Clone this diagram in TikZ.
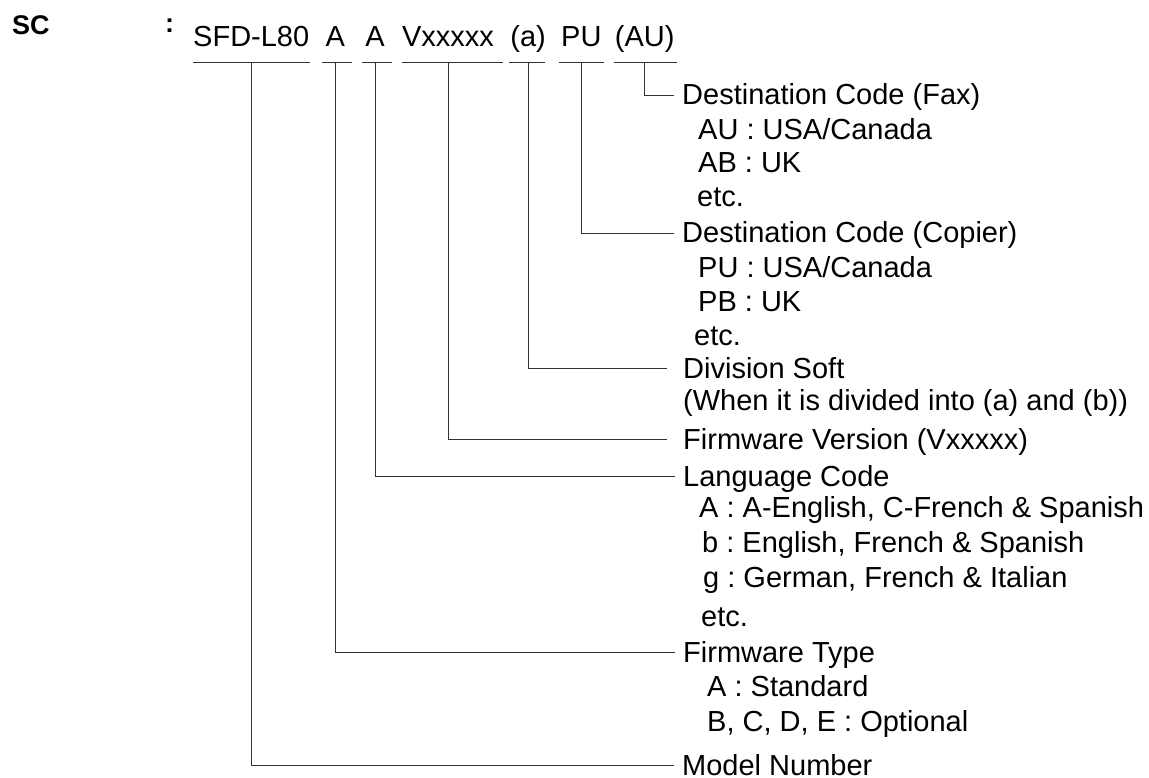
\documentclass[tikz,border=0pt]{standalone}
\usepackage{fontspec}
\setmainfont{Liberation Sans}
\usetikzlibrary{positioning}
\frenchspacing

\begin{document}
\begin{tikzpicture}[x=1pt, y=-1pt,
    code/.style={font=\fontsize{29}{34}\selectfont, inner sep=0pt, text height=21pt, text depth=15pt},
    title/.style={font=\fontsize{29}{34}\selectfont, inner xsep=8pt, inner ysep=0pt, anchor=base west, text height=19pt, text depth=0pt},
    entry/.style={font=\fontsize{29}{34}\selectfont, inner sep=0pt, anchor=base west},
    lead/.style={draw=black!80, line width=1.1pt}]
    \useasboundingbox (0,0) rectangle (1149,778);

    % Heading and the code string
    \node[font=\fontsize{27}{30}\selectfont\bfseries, inner sep=0pt, anchor=base west] (sc) at (12,35) {SC};
    \node[font=\fontsize{27}{30}\selectfont\bfseries, inner sep=0pt, anchor=base west] (colon) at (165,33) {:};
    \node[code, anchor=base west] (model) at (193,47) {SFD-L80};
    \node[code, base right=16pt of model] (type) {A};
    \node[code, base right=20pt of type] (lang) {A};
    \node[code, base right=17pt of lang] (vers) {Vxxxxx};
    \node[code, base right=16pt of vers] (div) {(a)};
    \node[code, base right=15pt of div] (dcop) {PU};
    \node[code, base right=13pt of dcop] (dfax) {(AU)};

    % Underlines
    \draw[lead] (model.south west) -- ([xshift=1pt]model.south east);
    \draw[lead] ([xshift=-3pt]type.south west) -- ([xshift=7pt]type.south east);
    \draw[lead] ([xshift=-3pt]lang.south west) -- ([xshift=7pt]lang.south east);
    \draw[lead] (vers.south west) -- ([xshift=9pt]vers.south east);
    \draw[lead] ([xshift=-1pt]div.south west) -- ([xshift=-1pt]div.south east);
    \draw[lead] ([xshift=-2pt]dcop.south west) -- ([xshift=2pt]dcop.south east);
    \draw[lead] ([xshift=-1pt]dfax.south west) -- ([xshift=2pt]dfax.south east);

    % Destination code (fax)
    \node[title] (fax) at (674,105) {Destination Code (Fax)};
    \node[entry] (fax1) at (698,140) {AU : USA/Canada};
    \node[entry] (fax2) at (698,173) {AB : UK};
    \node[entry] (fax3) at (697,207) {etc.};

    % Destination code (copier)
    \node[title] (cop) at (674,243) {Destination Code (Copier)};
    \node[entry] (cop1) at (698,278) {PU : USA/Canada};
    \node[entry] (cop2) at (698,312) {PB : UK};
    \node[entry] (cop3) at (694,345) {etc.};

    % Division soft
    \node[title] (soft) at (675,378) {Division Soft};
    \node[entry] (soft1) at (683,410) {(When it is divided into (a) and (b))};

    % Firmware version
    \node[title] (version) at (675,449) {Firmware Version (Vxxxxx)};

    % Language code
    \node[title] (language) at (675,486) {Language Code};
    \node[entry] (language1) at (699,517) {A : A-English, C-French \& Spanish};
    \node[entry] (language2) at (702,552) {b : English, French \& Spanish};
    \node[entry] (language3) at (703,587) {g : German, French \& Italian};
    \node[entry] (language4) at (701,626) {etc.};

    % Firmware type
    \node[title] (fwtype) at (675,662) {Firmware Type};
    \node[entry] (fwtype1) at (707,696) {A : Standard};
    \node[entry] (fwtype2) at (707,731) {B, C, D, E : Optional};

    % Model number
    \node[title] (number) at (674,775) {Model Number};

    % Leaders
    \draw[lead] (dfax.south) |- (fax.west);
    \draw[lead] (dcop.south) |- (cop.west);
    \draw[lead] (div.south) |- ([xshift=-8pt]soft.west);
    \draw[lead] (vers.south) |- ([xshift=-8pt]version.west);
    \draw[lead] (lang.south) |- (language.west);
    \draw[lead] (type.south) |- (fwtype.west);
    \draw[lead] (model.south) |- (number.west);
\end{tikzpicture}
\end{document}
